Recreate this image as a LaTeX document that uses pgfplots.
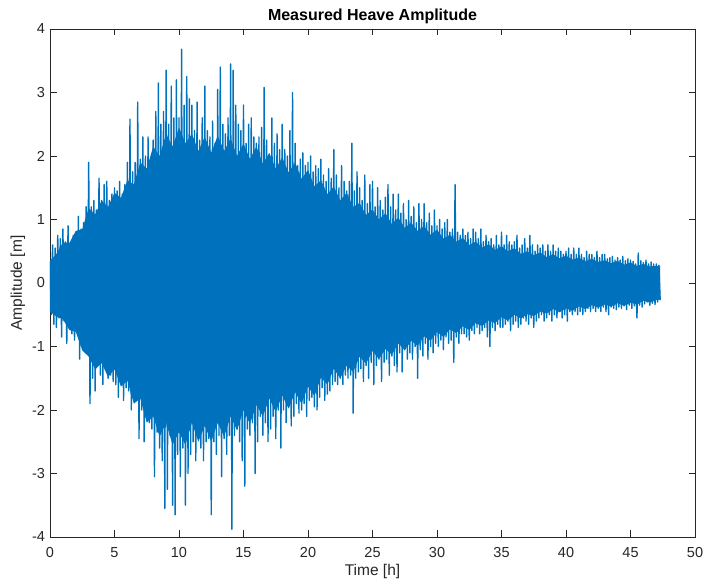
\documentclass[border=0pt]{standalone}
\usepackage{fontspec}
\setmainfont{Liberation Sans}
\usepackage{pgfplots}
\pgfplotsset{compat=1.18}
\usepackage{pgfplotstable}
\definecolor{mblue}{RGB}{0,114,189}
\definecolor{axgray}{RGB}{38,38,38}

% measured heave, sampled every 0.1 h (one line per hour)
\pgfplotstableread[row sep=\\]{
y\\
0.35\\ -0.5\\ 0.6\\ -0.65\\ 0.55\\ -0.7\\ 0.75\\ -0.55\\ 0.7\\ -0.85\\
0.85\\ -0.6\\ 0.65\\ -0.95\\ 0.9\\ -0.7\\ 0.6\\ -0.8\\ 0.75\\ -0.9\\
0.8\\ -0.75\\ 1.05\\ -1.2\\ 0.85\\ -0.9\\ 0.95\\ -1.0\\ 1.2\\ -1.1\\
1.9\\ -1.9\\ 1.2\\ -1.5\\ 1.3\\ -1.7\\ 1.15\\ -1.3\\ 1.65\\ -1.45\\
1.3\\ -1.6\\ 1.55\\ -1.35\\ 1.6\\ -1.5\\ 1.3\\ -1.45\\ 1.4\\ -1.55\\
1.5\\ -1.6\\ 1.45\\ -1.8\\ 1.6\\ -1.5\\ 1.4\\ -1.85\\ 1.55\\ -1.65\\
1.9\\ -1.7\\ 2.58\\ -2.0\\ 1.75\\ -1.8\\ 1.9\\ -1.75\\ 2.85\\ -2.45\\
1.95\\ -2.0\\ 2.3\\ -2.5\\ 2.0\\ -2.1\\ 2.3\\ -2.2\\ 1.95\\ -2.3\\
2.25\\ -3.05\\ 2.7\\ -2.35\\ 3.15\\ -2.6\\ 2.5\\ -2.8\\ 2.7\\ -3.55\\
3.35\\ -3.25\\ 2.5\\ -2.4\\ 3.1\\ -3.5\\ 2.6\\ -3.65\\ 3.2\\ -2.7\\
2.6\\ -3.05\\ 3.68\\ -2.6\\ 2.8\\ -3.5\\ 3.25\\ -3.0\\ 2.9\\ -2.7\\
2.8\\ -2.5\\ 2.4\\ -2.8\\ 2.85\\ -2.4\\ 2.25\\ -2.6\\ 2.6\\ -2.8\\
3.1\\ -2.5\\ 2.4\\ -2.45\\ 2.3\\ -3.65\\ 2.55\\ -2.5\\ 2.2\\ -2.7\\
3.05\\ -2.4\\ 3.4\\ -3.05\\ 2.5\\ -2.45\\ 2.35\\ -2.7\\ 2.6\\ -2.4\\
3.45\\ -3.88\\ 3.35\\ -2.4\\ 2.8\\ -2.3\\ 2.5\\ -2.5\\ 2.4\\ -2.8\\
2.8\\ -3.2\\ 2.2\\ -2.3\\ 2.5\\ -2.4\\ 2.6\\ -2.2\\ 2.3\\ -3.0\\
2.2\\ -2.5\\ 2.3\\ -2.1\\ 2.45\\ -2.4\\ 3.08\\ -2.2\\ 2.25\\ -2.5\\
2.0\\ -2.3\\ 2.6\\ -2.1\\ 2.2\\ -2.45\\ 2.35\\ -2.0\\ 2.1\\ -2.6\\
2.5\\ -2.0\\ 2.1\\ -2.2\\ 2.0\\ -1.95\\ 2.4\\ -2.25\\ 3.0\\ -2.1\\
2.2\\ -1.9\\ 1.85\\ -2.05\\ 1.95\\ -2.0\\ 2.05\\ -1.9\\ 1.85\\ -2.1\\
1.9\\ -1.85\\ 2.0\\ -1.8\\ 1.75\\ -1.95\\ 1.85\\ -2.0\\ 1.8\\ -1.8\\
1.95\\ -1.65\\ 1.7\\ -1.85\\ 1.6\\ -1.75\\ 1.8\\ -1.7\\ 1.65\\ -1.6\\
2.1\\ -1.55\\ 1.7\\ -1.6\\ 1.5\\ -1.5\\ 1.85\\ -1.6\\ 1.6\\ -1.45\\
1.45\\ -1.5\\ 1.6\\ -1.45\\ 2.2\\ -2.05\\ 1.45\\ -1.5\\ 1.75\\ -1.4\\
1.5\\ -1.35\\ 1.3\\ -1.55\\ 1.7\\ -1.3\\ 1.25\\ -1.5\\ 1.55\\ -1.25\\
1.6\\ -1.6\\ 1.2\\ -1.3\\ 1.5\\ -1.2\\ 1.3\\ -1.55\\ 1.15\\ -1.25\\
1.35\\ -1.2\\ 1.55\\ -1.45\\ 1.2\\ -1.15\\ 1.4\\ -1.3\\ 1.15\\ -1.4\\
1.4\\ -1.1\\ 1.1\\ -1.4\\ 1.25\\ -1.05\\ 1.0\\ -1.2\\ 1.3\\ -1.1\\
1.05\\ -1.2\\ 1.2\\ -1.0\\ 0.95\\ -1.5\\ 1.25\\ -1.05\\ 1.0\\ -1.15\\
1.25\\ -0.95\\ 0.95\\ -1.2\\ 1.1\\ -1.0\\ 0.9\\ -1.1\\ 1.15\\ -0.95\\
0.9\\ -1.0\\ 1.0\\ -0.9\\ 0.85\\ -1.05\\ 0.95\\ -0.85\\ 1.0\\ -0.95\\
0.8\\ -0.9\\ 0.85\\ -1.25\\ 1.55\\ -0.85\\ 0.8\\ -0.95\\ 0.75\\ -0.8\\
0.85\\ -0.8\\ 0.75\\ -0.85\\ 0.8\\ -0.9\\ 0.7\\ -0.75\\ 0.85\\ -0.8\\
0.8\\ -0.7\\ 0.7\\ -0.8\\ 0.85\\ -0.75\\ 0.65\\ -0.7\\ 0.75\\ -0.85\\
0.65\\ -1.0\\ 0.7\\ -0.7\\ 0.6\\ -0.75\\ 0.75\\ -0.65\\ 0.6\\ -0.7\\
0.8\\ -0.7\\ 0.6\\ -0.65\\ 0.75\\ -0.6\\ 0.65\\ -0.75\\ 0.6\\ -0.65\\
0.65\\ -0.6\\ 0.75\\ -0.7\\ 0.55\\ -0.65\\ 0.6\\ -0.55\\ 0.7\\ -0.6\\
0.55\\ -0.65\\ 0.75\\ -0.55\\ 0.6\\ -0.7\\ 0.5\\ -0.6\\ 0.6\\ -0.55\\
0.55\\ -0.5\\ 0.6\\ -0.6\\ 0.5\\ -0.55\\ 0.6\\ -0.5\\ 0.5\\ -0.6\\
0.6\\ -0.5\\ 0.5\\ -0.55\\ 0.55\\ -0.45\\ 0.5\\ -0.55\\ 0.45\\ -0.5\\
0.5\\ -0.6\\ 0.55\\ -0.45\\ 0.45\\ -0.5\\ 0.55\\ -0.45\\ 0.45\\ -0.5\\
0.55\\ -0.45\\ 0.45\\ -0.5\\ 0.4\\ -0.45\\ 0.5\\ -0.4\\ 0.45\\ -0.45\\
0.45\\ -0.4\\ 0.4\\ -0.45\\ 0.5\\ -0.4\\ 0.4\\ -0.45\\ 0.45\\ -0.38\\
0.45\\ -0.45\\ 0.38\\ -0.5\\ 0.4\\ -0.38\\ 0.42\\ -0.4\\ 0.36\\ -0.42\\
0.4\\ -0.38\\ 0.36\\ -0.4\\ 0.42\\ -0.36\\ 0.35\\ -0.42\\ 0.38\\ -0.35\\
0.36\\ -0.4\\ 0.34\\ -0.36\\ 0.3\\ -0.55\\ 0.47\\ -0.35\\ 0.35\\ -0.38\\
0.32\\ -0.33\\ 0.36\\ -0.3\\ 0.3\\ -0.35\\ 0.33\\ -0.32\\ 0.3\\ -0.34\\
0.3\\ -0.3\\ 0.28\\ -0.27\\
}\heave

% dense core of the record (upper edge forward, lower edge back), every 0.5 h
\pgfplotstableread[row sep=\\]{
t y\\
0 0.35\\ 0.5 0.46\\ 1 0.64\\ 1.5 0.63\\ 2 0.82\\ 2.5 0.85\\ 3 1.18\\ 3.5 1.08\\ 4 1.3\\ 4.5 1.2\\
5 1.42\\ 5.5 1.34\\ 6 1.62\\ 6.5 1.55\\ 7 1.9\\ 7.5 1.8\\ 8 2.15\\ 8.5 2.0\\ 9 2.35\\ 9.5 2.15\\
10 2.45\\ 10.5 2.2\\ 11 2.35\\ 11.5 2.08\\ 12 2.3\\ 12.5 2.05\\ 13 2.32\\ 13.5 2.08\\ 14 2.28\\ 14.5 2.0\\
15 2.2\\ 15.5 1.95\\ 16 2.15\\ 16.5 1.88\\ 17 2.05\\ 17.5 1.8\\ 18 1.98\\ 18.5 1.74\\ 19 1.9\\ 19.5 1.64\\
20 1.78\\ 20.5 1.52\\ 21 1.62\\ 21.5 1.4\\ 22 1.52\\ 22.5 1.3\\ 23 1.42\\ 23.5 1.2\\ 24 1.26\\ 24.5 1.07\\
25 1.16\\ 25.5 1.0\\ 26 1.1\\ 26.5 0.93\\ 27 1.03\\ 27.5 0.87\\ 28 0.95\\ 28.5 0.82\\ 29 0.9\\ 29.5 0.76\\
30 0.84\\ 30.5 0.7\\ 31 0.76\\ 31.5 0.65\\ 32 0.71\\ 32.5 0.6\\ 33 0.65\\ 33.5 0.56\\ 34 0.61\\ 34.5 0.52\\
35 0.58\\ 35.5 0.5\\ 36 0.55\\ 36.5 0.46\\ 37 0.5\\ 37.5 0.44\\ 38 0.48\\ 38.5 0.41\\ 39 0.45\\ 39.5 0.39\\
40 0.43\\ 40.5 0.37\\ 41 0.4\\ 41.5 0.34\\ 42 0.38\\ 42.5 0.33\\ 43 0.36\\ 43.5 0.31\\ 44 0.35\\ 44.5 0.29\\
45 0.32\\ 45.5 0.27\\ 46 0.3\\ 46.5 0.26\\ 47 0.27\\ 47.3 0.26\\
47.3 -0.26\\ 47 -0.27\\ 46.5 -0.31\\ 46 -0.28\\ 45.5 -0.34\\ 45 -0.31\\ 44.5 -0.36\\ 44 -0.32\\
43.5 -0.37\\ 43 -0.34\\ 42.5 -0.39\\ 42 -0.35\\ 41.5 -0.41\\ 41 -0.37\\ 40.5 -0.44\\ 40 -0.4\\
39.5 -0.46\\ 39 -0.41\\ 38.5 -0.48\\ 38 -0.45\\ 37.5 -0.52\\ 37 -0.49\\ 36.5 -0.56\\ 36 -0.5\\
35.5 -0.59\\ 35 -0.54\\ 34.5 -0.63\\ 34 -0.59\\ 33.5 -0.68\\ 33 -0.63\\ 32.5 -0.74\\ 32 -0.68\\
31.5 -0.79\\ 31 -0.73\\ 30.5 -0.85\\ 30 -0.77\\ 29.5 -0.91\\ 29 -0.84\\ 28.5 -0.99\\ 28 -0.91\\
27.5 -1.06\\ 27 -0.95\\ 26.5 -1.13\\ 26 -1.04\\ 25.5 -1.2\\ 25 -1.07\\ 24.5 -1.27\\ 24 -1.16\\
23.5 -1.4\\ 23 -1.3\\ 22.5 -1.5\\ 22 -1.35\\ 21.5 -1.6\\ 21 -1.49\\ 20.5 -1.78\\ 20 -1.63\\
19.5 -1.9\\ 19 -1.72\\ 18.5 -1.98\\ 18 -1.77\\ 17.5 -2.03\\ 17 -1.82\\ 16.5 -2.1\\ 16 -1.92\\
15.5 -2.22\\ 15 -2.0\\ 14.5 -2.32\\ 14 -2.1\\ 13.5 -2.42\\ 13 -2.2\\ 12.5 -2.5\\ 12 -2.25\\
11.5 -2.5\\ 11 -2.2\\ 10.5 -2.55\\ 10 -2.35\\ 9.5 -2.55\\ 9 -2.2\\ 8.5 -2.42\\ 8 -2.1\\
7.5 -2.2\\ 7 -1.82\\ 6.5 -1.9\\ 6 -1.54\\ 5.5 -1.63\\ 5 -1.36\\ 4.5 -1.48\\ 4 -1.26\\
3.5 -1.36\\ 3 -1.16\\ 2.5 -1.06\\ 2 -0.77\\ 1.5 -0.74\\ 1 -0.57\\ 0.5 -0.53\\ 0 -0.45\\
}\core

\begin{document}
\begin{tikzpicture}
\path[use as bounding box] (-50pt,-51pt) rectangle (656pt,537pt);
\begin{axis}[
  at={(0pt,0pt)}, anchor=south west,
  scale only axis, width=645pt, height=508pt,
  xmin=0, xmax=50, ymin=-4, ymax=4,
  xtick={0,5,...,50}, ytick={-4,-3,...,4},
  tick align=inside, major tick length=6.5pt,
  axis line style={axgray, line width=0.6pt},
  tick style={axgray, line width=0.6pt},
  /pgf/number format/assume math mode=true,
  ticklabel style={font=\fontsize{14.5}{17}\selectfont, text=axgray},
  xticklabel style={yshift=-7pt},
  yticklabel style={xshift=-1.5pt},
  title={Measured Heave Amplitude},
  title style={font=\fontsize{16}{19}\selectfont\bfseries, text=black, yshift=-4pt},
  xlabel={Time [h]}, ylabel={Amplitude [m]},
  label style={font=\fontsize{15.5}{18}\selectfont, text=axgray},
]
\addplot[fill=mblue, draw=none, forget plot] table[x=t, y=y] {\core};
\addplot[mblue, line width=1.4pt, line join=round, no marks] table[x expr=\coordindex*0.1, y=y] {\heave};
\end{axis}
\end{tikzpicture}
\end{document}
